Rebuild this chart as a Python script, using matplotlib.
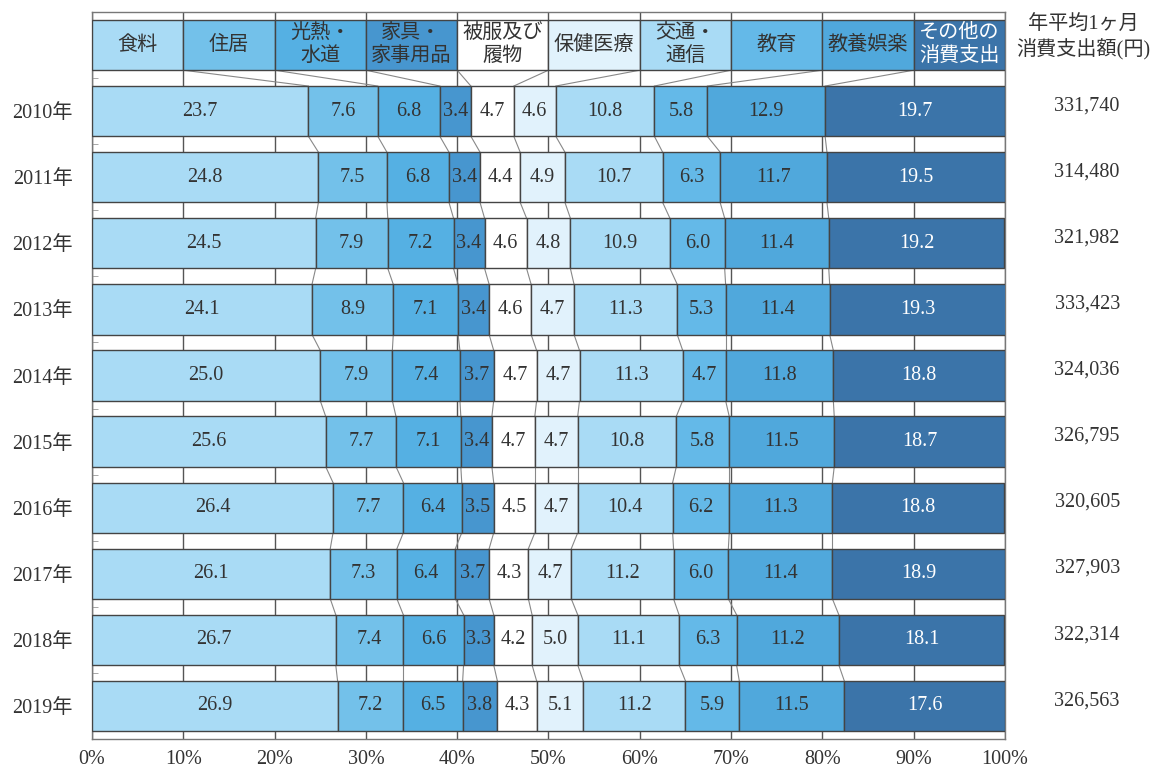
import matplotlib.pyplot as plt
import numpy as np

plt.rcParams['font.family'] = ['Liberation Serif', 'Noto Sans CJK JP']

years = ["2010年", "2011年", "2012年", "2013年", "2014年",
         "2015年", "2016年", "2017年", "2018年", "2019年"]
categories = ["食料", "住居", "光熱・\n水道", "家具・\n家事用品", "被服及び\n履物",
              "保健医療", "交通・\n通信", "教育", "教養娯楽", "その他の\n消費支出"]

# 消費支出に占める割合(%)
food = [23.7, 24.8, 24.5, 24.1, 25.0, 25.6, 26.4, 26.1, 26.7, 26.9]
housing = [7.6, 7.5, 7.9, 8.9, 7.9, 7.7, 7.7, 7.3, 7.4, 7.2]
utilities = [6.8, 6.8, 7.2, 7.1, 7.4, 7.1, 6.4, 6.4, 6.6, 6.5]
furniture = [3.4, 3.4, 3.4, 3.4, 3.7, 3.4, 3.5, 3.7, 3.3, 3.8]
clothing = [4.7, 4.4, 4.6, 4.6, 4.7, 4.7, 4.5, 4.3, 4.2, 4.3]
medical = [4.6, 4.9, 4.8, 4.7, 4.7, 4.7, 4.7, 4.7, 5.0, 5.1]
transport = [10.8, 10.7, 10.9, 11.3, 11.3, 10.8, 10.4, 11.2, 11.1, 11.2]
education = [5.8, 6.3, 6.0, 5.3, 4.7, 5.8, 6.2, 6.0, 6.3, 5.9]
culture = [12.9, 11.7, 11.4, 11.4, 11.8, 11.5, 11.3, 11.4, 11.2, 11.5]
other = [19.7, 19.5, 19.2, 19.3, 18.8, 18.7, 18.8, 18.9, 18.1, 17.6]

# 年平均1ヶ月の消費支出額(円)
totals = [331740, 314480, 321982, 333423, 324036, 326795, 320605, 327903, 322314, 326563]

series = [food, housing, utilities, furniture, clothing,
          medical, transport, education, culture, other]
colors = ["#a9dbf5", "#73c1ea", "#55b0e3", "#4796cf", "#ffffff",
          "#e1f2fc", "#a9dbf5", "#64b9e8", "#50a8dc", "#3b74a9"]
text_colors = ["#333333"] * 9 + ["#ffffff"]

data = np.array(series)            # 10カテゴリ x 10年
header = np.full(len(categories), 10.0)
rows = np.vstack([header, data.T])  # 見出し行 + 各年
n_rows = rows.shape[0]
bar_h = 0.76
edge = "#444444"
fs = 14.5

fig = plt.figure(figsize=(11.57, 7.71), dpi=100)
ax = fig.add_axes([0.0795, 0.0415, 0.7891, 0.9429])

y = np.arange(n_rows)
left = np.zeros(n_rows)
for j in range(len(categories)):
    w = rows[:, j]
    ax.barh(y, w, left=left, height=bar_h, color=colors[j],
            edgecolor=edge, linewidth=1.0, zorder=3)
    for i in range(n_rows):
        cx = left[i] + w[i] / 2
        if i == 0:
            label = categories[j]
        else:
            label = f"{w[i]:.1f}"
        ax.text(cx, y[i], label, ha="center", va="center", fontsize=fs,
                color=text_colors[j], zorder=4, linespacing=1.3)
    left = left + w

# 行どうしの区切りを結ぶ線
cum = np.cumsum(rows, axis=1)
for i in range(n_rows - 1):
    for j in range(len(categories) - 1):
        ax.plot([cum[i, j], cum[i + 1, j]],
                [y[i] + bar_h / 2, y[i + 1] - bar_h / 2],
                color="#888888", linewidth=0.8, zorder=2)

ax.set_xlim(0, 100)
ax.set_ylim(n_rows - 0.5, -0.5)
ax.set_xticks(np.arange(0, 101, 10))
ax.set_xticklabels([f"{v}%" for v in range(0, 101, 10)], fontsize=fs, color="#333333")
ax.tick_params(axis="x", length=0, pad=8)
ax.set_yticks(y)
ax.set_yticklabels([""] + years, fontsize=fs, color="#333333")
ax.tick_params(axis="y", length=0, pad=14)
ax.set_yticks(np.arange(0.5, n_rows - 1, 1), minor=True)
ax.tick_params(axis="y", which="minor", direction="in", length=4, color="#999999")
ax.grid(axis="x", color="#555555", linewidth=1.0, zorder=0)
for s in ax.spines.values():
    s.set_color("#777777")
    s.set_linewidth(1.0)

# 右側の消費支出額
ax.text(108.6, -0.1, "年平均1ヶ月\n消費支出額(円)", ha="center", va="center",
        fontsize=fs, color="#333333", clip_on=False, linespacing=1.25)
for i, t in enumerate(totals):
    ax.text(109, y[i + 1] - 0.08, f"{t:,}", ha="center", va="center",
            fontsize=fs, color="#333333", clip_on=False)

fig.savefig("out.png", dpi=100)
